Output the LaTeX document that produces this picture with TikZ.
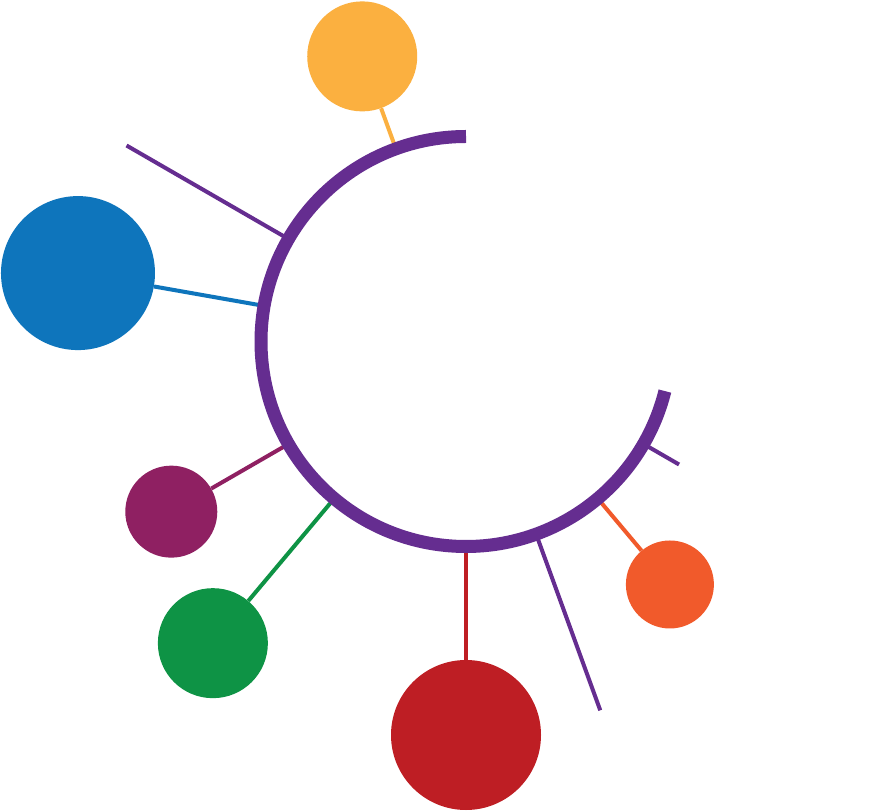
\documentclass[tikz,border=0pt]{standalone}
\definecolor{rpurple}{RGB}{101,45,144}
\definecolor{rorange}{RGB}{251,176,64}
\definecolor{rblue}{RGB}{14,117,188}
\definecolor{rmaroon}{RGB}{143,32,98}
\definecolor{rgreen}{RGB}{14,147,69}
\definecolor{rred}{RGB}{190,30,36}
\definecolor{rorred}{RGB}{241,90,43}
\begin{document}
\begin{tikzpicture}[x=1pt,y=1pt,
  ball/.style={circle,inner sep=0pt,fill=#1,draw=none},
  conn/.style={draw=#1,line width=4pt},
  ring/.style={draw=rpurple,line width=13pt,line cap=butt}]
\fill[white] (0,0) rectangle (877,811);
\useasboundingbox (0,0) rectangle (877,811);
\begin{scope}[shift={(466,469.5)}]
  % anchor points on the ring
  \coordinate (p110) at (110:205);
  \coordinate (p150) at (150:205);
  \coordinate (p170) at (170:205);
  \coordinate (p210) at (210:205);
  \coordinate (p230) at (230:205);
  \coordinate (p270) at (270:205);
  \coordinate (p290) at (290:205);
  \coordinate (p310) at (310:205);
  \coordinate (p330) at (330:205);
  % free ends
  \coordinate (e150) at (150:392);
  \coordinate (e290) at (290:392.5);
  \coordinate (e330) at (330:246);
  % balls
  \node[ball=rorange,minimum size=110pt] (b110) at (110:303.4) {};
  \node[ball=rblue,minimum size=154pt] (b170) at (170:394) {};
  \node[ball=rmaroon,minimum size=92pt] (b210) at (210:340.3) {};
  \node[ball=rgreen,minimum size=110pt] (b230) at (230:393.8) {};
  \node[ball=rred,minimum size=150pt] (b270) at (270:393.5) {};
  \node[ball=rorred,minimum size=88pt] (b310) at (310:317.2) {};
  % connectors
  \draw[conn=rorange] (p110) -- (b110);
  \draw[conn=rpurple] (p150) -- (e150);
  \draw[conn=rblue] (p170) -- (b170);
  \draw[conn=rmaroon] (p210) -- (b210);
  \draw[conn=rgreen] (p230) -- (b230);
  \draw[conn=rred] (p270) -- (b270);
  \draw[conn=rpurple] (p290) -- (e290);
  \draw[conn=rorred] (p310) -- (b310);
  \draw[conn=rpurple] (p330) -- (e330);
  % ring
  \draw[ring] (90:205) arc[start angle=90,end angle=346,radius=205];
\end{scope}
\end{tikzpicture}
\end{document}
